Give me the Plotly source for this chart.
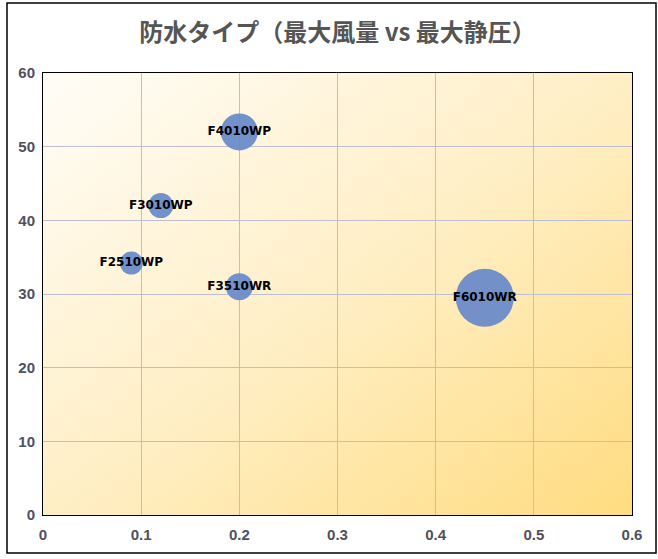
import plotly.graph_objects as go
import urllib.parse

# Data
models = ["F4010WP", "F3010WP", "F2510WP", "F3510WR", "F6010WR"]
max_airflow = [0.20, 0.12, 0.09, 0.20, 0.45]
max_static_pressure = [52, 42, 34.2, 31, 29.5]
bubble_size = [37, 25, 23, 27, 58]

x_ticks = [0, 0.1, 0.2, 0.3, 0.4, 0.5, 0.6]
y_ticks = [0, 10, 20, 30, 40, 50, 60]

title_text = "防水タイプ（最大風量 vs 最大静圧）"

fig = go.Figure()
fig.add_trace(go.Scatter(
    x=max_airflow, y=max_static_pressure,
    mode="markers+text",
    text=models,
    textposition="middle center",
    textfont=dict(family="DejaVu Sans", size=12, color="#000000", weight="bold"),
    marker=dict(size=bubble_size, sizemode="diameter", sizeref=1,
                color="#6b8bc9", opacity=0.95, line=dict(width=0)),
    hoverinfo="x+y+text",
    showlegend=False,
))

svg = ('<svg xmlns="http://www.w3.org/2000/svg" width="100" height="100" preserveAspectRatio="none">'
       '<defs><linearGradient id="g" x1="0" y1="0" x2="1" y2="1">'
       '<stop offset="0" stop-color="#fffdf8"/>'
       '<stop offset="0.5" stop-color="#ffefc6"/>'
       '<stop offset="1" stop-color="#ffdc80"/>'
       '</linearGradient></defs>'
       '<rect width="100" height="100" fill="url(#g)"/></svg>')
src = "data:image/svg+xml;charset=utf-8," + urllib.parse.quote(svg)

fig.add_layout_image(dict(source=src, xref="paper", yref="paper", x=0, y=1,
                          sizex=1, sizey=1, sizing="stretch", layer="below",
                          xanchor="left", yanchor="top"))

W, H = 658, 559
ml, mr, mt, mb = 43, 26, 73, 44
pw, ph = W - ml - mr, H - mt - mb

def px(xp):
    return (xp - ml) / pw

def py(yp):
    return (H - mb - yp) / ph

fig.add_shape(type="rect", xref="paper", yref="paper",
              x0=px(7), x1=px(656), y0=py(553), y1=py(3),
              line=dict(color="#000000", width=1.5), fillcolor="rgba(0,0,0,0)",
              layer="above")

tickfont = dict(family="Liberation Sans", size=15, color="#505060", weight="bold")
axis_common = dict(showgrid=True, gridcolor="#bcbfd0", gridwidth=1,
                   zeroline=False, showline=True, linecolor="#000000", linewidth=1,
                   mirror=True, ticks="", tickfont=tickfont)

fig.update_layout(
    width=W, height=H,
    margin=dict(l=ml, r=mr, t=mt, b=mb),
    paper_bgcolor="#ffffff",
    plot_bgcolor="rgba(0,0,0,0)",
    title=dict(text=title_text, x=0.5, xref="paper", xanchor="center",
               y=1 - 33 / H, yref="container", yanchor="middle",
               font=dict(family="Noto Sans CJK JP", size=24, color="#555555", weight="bold")),
    xaxis=dict(range=[0, 0.6], tickvals=x_ticks, ticktext=[str(v) for v in x_ticks],
               ticklabelstandoff=6, **axis_common),
    yaxis=dict(range=[0, 60], tickvals=y_ticks, ticktext=[str(v) for v in y_ticks],
               ticklabelstandoff=4, **axis_common),
)

fig.write_html("out.html")
